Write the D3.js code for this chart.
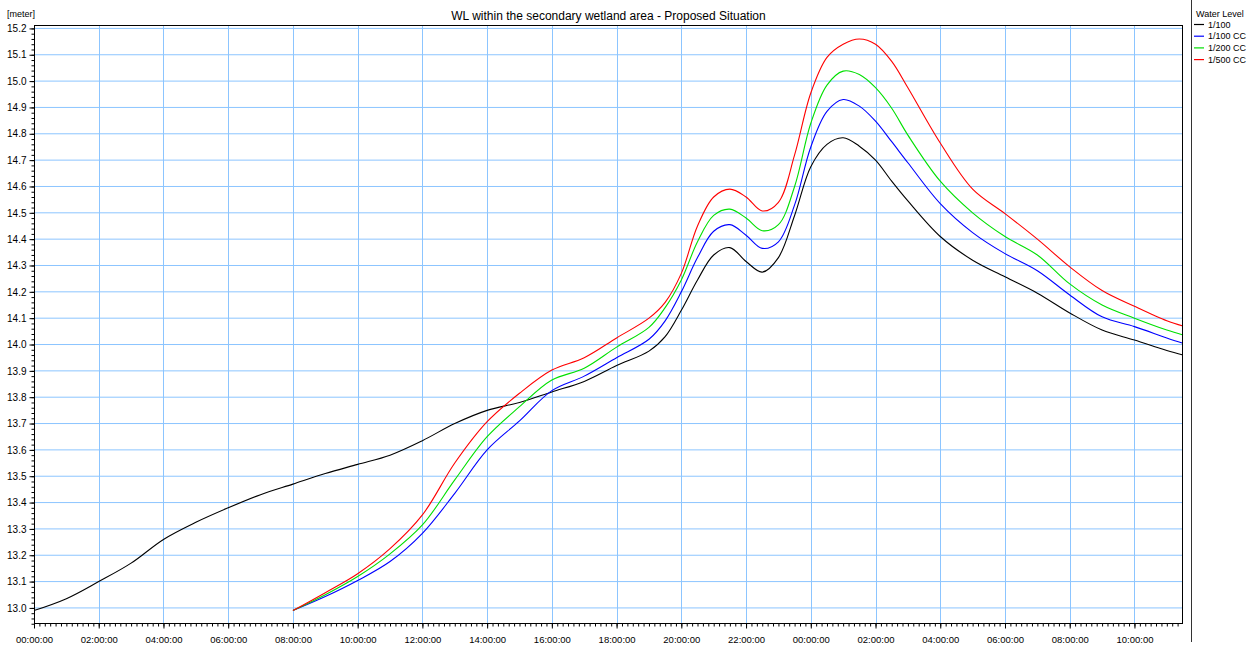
<!DOCTYPE html>
<html>
<head>
<meta charset="utf-8">
<title>WL within the secondary wetland area - Proposed Situation</title>
<script src="https://cdn.jsdelivr.net/npm/d3@7"></script>
<style>
  body { margin: 0; background: #fff; }
  svg { display: block; font-family: "Liberation Sans", Arial, sans-serif; }
  .grid line { stroke: #8cc5ff; stroke-width: 1; }
  .axis path, .axis line { stroke: #000; }
  .axis text { fill: #000; }
  .series { fill: none; stroke-width: 1.1; }
</style>
</head>
<body>
<svg width="1256" height="646"></svg>
<script>
// hours since 00:00:00 on day 1
var hoursExisting = [0, 1, 2, 3, 4, 5, 6, 7, 8, 9, 10, 11, 12, 13, 14, 15, 16, 17, 18, 19,
  19.5, 20, 20.5, 21, 21.5, 22, 22.5, 23, 23.5, 24, 24.5, 25, 25.5, 26, 26.5, 27,
  28, 29, 30, 31, 32, 33, 34, 35, 35.5];
var hoursProposed = [8, 9, 10, 11, 12, 13, 14, 15, 16, 17, 18, 19,
  19.5, 20, 20.5, 21, 21.5, 22, 22.5, 23, 23.5, 24, 24.5, 25, 25.5, 26, 26.5, 27,
  28, 29, 30, 31, 32, 33, 34, 35, 35.5];

// water levels [meter]
var wl100 = [12.99, 13.035, 13.10, 13.17, 13.26, 13.325, 13.38, 13.43, 13.47, 13.51, 13.545, 13.58,
  13.635, 13.70, 13.75, 13.78, 13.82, 13.86, 13.92, 13.975,
  14.03, 14.13, 14.245, 14.34, 14.368, 14.315, 14.275, 14.33, 14.49, 14.675, 14.76, 14.785,
  14.753, 14.70, 14.62, 14.545,
  14.41, 14.32, 14.257, 14.195, 14.12, 14.055, 14.017, 13.977, 13.96];
var wl100cc = [12.99, 13.043, 13.104, 13.176, 13.283, 13.435, 13.60, 13.71, 13.825, 13.88, 13.95, 14.02,
  14.09, 14.20, 14.33, 14.43, 14.455, 14.415, 14.365, 14.39, 14.53, 14.75, 14.885, 14.93,
  14.905, 14.848, 14.77, 14.69,
  14.535, 14.425, 14.345, 14.28, 14.188, 14.105, 14.068, 14.025, 14.005];
var wl200cc = [12.99, 13.05, 13.119, 13.205, 13.315, 13.486, 13.65, 13.764, 13.865, 13.91, 13.99, 14.065,
  14.14, 14.245, 14.39, 14.49, 14.514, 14.48, 14.432, 14.455, 14.60, 14.84, 14.985, 15.038,
  15.025, 14.975, 14.897, 14.795,
  14.62, 14.50, 14.41, 14.34, 14.23, 14.15, 14.10, 14.055, 14.036];
var wl500cc = [12.99, 13.058, 13.13, 13.225, 13.353, 13.55, 13.707, 13.815, 13.903, 13.95, 14.025, 14.10,
  14.16, 14.27, 14.45, 14.56, 14.59, 14.56, 14.507, 14.54, 14.72, 14.955, 15.09, 15.14,
  15.16, 15.14, 15.075, 14.975,
  14.765, 14.59, 14.497, 14.40, 14.295, 14.205, 14.145, 14.09, 14.07];

var seriesNames = ["1/100", "1/100 CC", "1/200 CC", "1/500 CC"];
var seriesColors = ["#000000", "#0000ff", "#00e000", "#ff0000"];
var chartTitle = "WL within the secondary wetland area - Proposed Situation";
var legendTitle = "Water Level";
var yUnit = "[meter]";

var series = [
  {name: seriesNames[0], hours: hoursExisting, values: wl100},
  {name: seriesNames[1], hours: hoursProposed, values: wl100cc},
  {name: seriesNames[2], hours: hoursProposed, values: wl200cc},
  {name: seriesNames[3], hours: hoursProposed, values: wl500cc}
];

var svg = d3.select("svg"),
    plotLeft = 34, plotRight = 1183, plotTop = 25, plotBottom = 624;

var t0 = new Date(2000, 0, 1, 0, 0, 0);
function toDate(h) { return new Date(t0.getTime() + h * 3600e3); }

var x = d3.scaleTime()
    .domain([t0, toDate(35.5)])
    .range([plotLeft, plotRight]);
var y = d3.scaleLinear()
    .domain([12.939, 15.213])
    .range([plotBottom, plotTop]);

var majorX = d3.timeHour.every(2).range(t0, toDate(35.5));
var yTicks = d3.range(13.0, 15.21, 0.1).map(function(v) { return +v.toFixed(1); });

// grid
var grid = svg.append("g").attr("class", "grid");
grid.selectAll(".gx")
    .data(majorX.slice(1))
    .enter().append("line")
    .attr("x1", function(d) { return Math.round(x(d)) + 0.5; })
    .attr("x2", function(d) { return Math.round(x(d)) + 0.5; })
    .attr("y1", plotTop)
    .attr("y2", plotBottom);
grid.selectAll(".gy")
    .data(yTicks)
    .enter().append("line")
    .attr("x1", plotLeft)
    .attr("x2", plotRight)
    .attr("y1", function(d) { return y(d); })
    .attr("y2", function(d) { return y(d); });

// series lines
var line = d3.line()
    .x(function(d) { return x(toDate(d[0])); })
    .y(function(d) { return y(d[1]); })
    .curve(d3.curveCatmullRom.alpha(0.5));

svg.append("g")
    .selectAll("path")
    .data(series)
    .enter().append("path")
    .attr("class", "series")
    .attr("stroke", function(d, i) { return seriesColors[i]; })
    .attr("d", function(d) { return line(d3.zip(d.hours, d.values)); });

// frame
svg.append("rect")
    .attr("x", plotLeft + 0.5)
    .attr("y", plotTop + 0.5)
    .attr("width", plotRight - plotLeft - 1)
    .attr("height", plotBottom - plotTop - 1)
    .attr("fill", "none")
    .attr("stroke", "#000");

// x axis: major every 2h, minor every 10 min
var xAxisG = svg.append("g")
    .attr("class", "axis")
    .attr("transform", "translate(0," + (plotBottom - 0.5) + ")");
xAxisG.append("g")
    .call(d3.axisBottom(x)
      .tickValues(d3.timeMinute.every(10).range(t0, toDate(35.5)))
      .tickSize(3).tickFormat(""))
    .call(function(g) { g.select(".domain").remove(); });
xAxisG.append("g")
    .call(d3.axisBottom(x)
      .tickValues(majorX)
      .tickSize(5)
      .tickPadding(8)
      .tickFormat(d3.timeFormat("%H:%M:%S")))
    .call(function(g) { g.select(".domain").remove(); })
    .selectAll("text")
    .attr("font-size", "9.5px")
    .attr("font-family", "Liberation Sans, Arial, sans-serif");

// y axis: major every 0.1, minor every 0.02
var yAxisG = svg.append("g")
    .attr("class", "axis")
    .attr("transform", "translate(" + (plotLeft + 0.5) + ",0)");
yAxisG.append("g")
    .call(d3.axisLeft(y)
      .tickValues(d3.range(12.94, 15.215, 0.02))
      .tickSize(3).tickFormat(""))
    .call(function(g) { g.select(".domain").remove(); });
yAxisG.append("g")
    .call(d3.axisLeft(y)
      .tickValues(yTicks)
      .tickSize(5)
      .tickPadding(3)
      .tickFormat(d3.format(".1f")))
    .call(function(g) { g.select(".domain").remove(); })
    .selectAll("text")
    .attr("font-size", "10px")
    .attr("font-family", "Liberation Sans, Arial, sans-serif");

// title and unit
svg.append("text")
    .attr("x", (plotLeft + plotRight) / 2)
    .attr("y", 20)
    .attr("text-anchor", "middle")
    .attr("font-size", "12px")
    .text(chartTitle);

svg.append("text")
    .attr("x", 7)
    .attr("y", 17)
    .attr("font-size", "9px")
    .text(yUnit);

// legend
svg.append("line")
    .attr("x1", 1191.5).attr("x2", 1191.5)
    .attr("y1", 0).attr("y2", 642)
    .attr("stroke", "#333");

svg.append("text")
    .attr("x", 1196)
    .attr("y", 17)
    .attr("font-size", "9px")
    .text(legendTitle);

var legend = svg.append("g")
    .selectAll("g")
    .data(seriesNames)
    .enter().append("g")
    .attr("transform", function(d, i) { return "translate(0," + (27.5 + i * 11.7) + ")"; });

legend.append("line")
    .attr("x1", 1194).attr("x2", 1204)
    .attr("y1", -3).attr("y2", -3)
    .attr("stroke", function(d, i) { return seriesColors[i]; })
    .attr("stroke-width", 1.2);

legend.append("text")
    .attr("x", 1208)
    .attr("font-size", "9px")
    .text(function(d) { return d; });
</script>
</body>
</html>
